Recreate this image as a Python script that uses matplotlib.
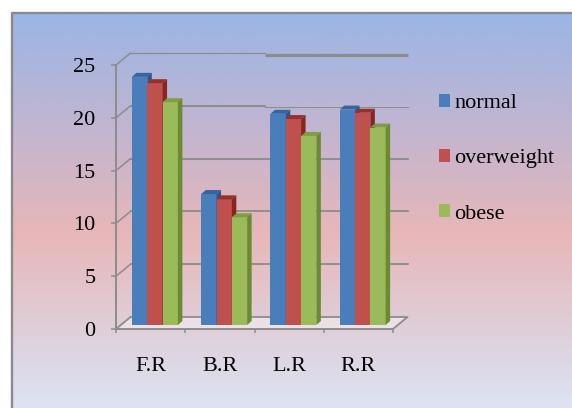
import matplotlib
matplotlib.use('Agg')
import matplotlib.pyplot as plt
import numpy as np
from matplotlib.patches import Polygon, Patch

categories = ['F.R', 'B.R', 'L.R', 'R.R']
series = ['normal', 'overweight', 'obese']
normal = [23.5, 12.4, 20.0, 20.4]
overweight = [22.9, 11.9, 19.5, 20.1]
obese = [21.1, 10.2, 17.9, 18.7]
y_ticks = [0, 5, 10, 15, 20, 25]

front_c = ['#4a7ebb', '#c0504d', '#9bbb59']
top_c = ['#35649e', '#97302d', '#7f9e42']
side_c = ['#2d5688', '#862622', '#6a8a34']
grid_c = '#8c8c8c'

W, H = 572, 408
plt.rcParams['font.family'] = ['Liberation Serif', 'DejaVu Serif']
plt.rcParams['font.size'] = 16

fig = plt.figure(figsize=(W / 100, H / 100), dpi=100)

# background gradient + frame
bg = fig.add_axes([0, 0, 1, 1])
bg.set_xlim(0, W)
bg.set_ylim(H, 0)
bg.axis('off')
stops = [0, 0.27, 0.56, 0.83, 1.0]
cols = ['#9bb5e5', '#bfb5d2', '#e7b7b8', '#ded2dd', '#dde3f3']
rgb = np.array([matplotlib.colors.to_rgb(c) for c in cols])
t = np.linspace(0, 1, 300)
grad = np.stack([np.interp(t, stops, rgb[:, k]) for k in range(3)], axis=1)[:, None, :]
bg.imshow(grad, extent=(12, W, H, 13), origin='upper', aspect='auto', zorder=0)
bg.plot([12, 12, W], [H, 13, 13], color='#8a8a8a', lw=1.7, zorder=1)

# plot area (front plane)
ax = fig.add_axes([116 / W, (H - 329) / H, 277 / W, 264 / H])
ax.set_facecolor('none')
ax.set_xlim(-0.5, 3.5)
ax.set_ylim(0, 25)
ux = 4 / 277
uy = 25 / 264

# depth of the box (back wall offset) in data units
bx, by = 14.5 * ux, 12 * uy
x = np.arange(len(categories))
split = 1.44

for v in y_ticks[1:]:
    if v == 25:
        ax.plot([-0.5 + bx, split + bx], [v + by, v + by], color=grid_c, lw=0.9, clip_on=False, zorder=1)
        ax.plot([split + bx, 3.5 + bx], [v + by - 2.3 * uy] * 2, color=grid_c, lw=2.3,
                clip_on=False, zorder=1, solid_capstyle='butt')
    elif v == 20:
        ax.plot([-0.5 + bx, split + bx], [v + by, v + by], color=grid_c, lw=1.4, clip_on=False, zorder=1)
        ax.plot([split + bx, 3.5 + bx], [v + by - 0.8 * uy] * 2, color=grid_c, lw=0.7, clip_on=False, zorder=1)
    else:
        ax.plot([-0.5 + bx, 3.5 + bx], [v + by, v + by], color=grid_c, lw=1.3, clip_on=False, zorder=1)
    ax.plot([-0.5, -0.5 + bx], [v, v + by], color=grid_c, lw=1.1, clip_on=False, zorder=1)

# floor
floor = Polygon([(-0.5, 0), (3.5, 0), (3.5 + bx, by), (-0.5 + bx, by)], closed=True,
                facecolor='white', alpha=0.4, edgecolor='none', zorder=1, clip_on=False)
ax.add_patch(floor)
ax.plot([-0.5, -0.5 + bx, 3.5 + bx, 3.5], [0, by, by, 0], color=grid_c, lw=1.3,
        clip_on=False, zorder=1)

# 3d-looking bars
bw = 15.3 / 69.25
ox, oy = 4.3 * ux, 4 * uy
dx, dy = 4.5 * ux, 4 * uy
for i, vals in enumerate([normal, overweight, obese]):
    z = 3 + i
    xs = x + (i - 1) * bw + ox
    ax.bar(xs, vals, width=bw, bottom=oy, color=front_c[i], edgecolor='none', zorder=z, clip_on=False)
    for xc, v in zip(xs, vals):
        x0, x1 = xc - bw / 2, xc + bw / 2
        top = v + oy
        ax.add_patch(Polygon([(x0, top), (x1, top), (x1 + dx, top + dy), (x0 + dx, top + dy)],
                             closed=True, facecolor=top_c[i], edgecolor='none', zorder=z, clip_on=False))
        ax.add_patch(Polygon([(x1, oy), (x1 + dx, oy + dy), (x1 + dx, top + dy), (x1, top)],
                             closed=True, facecolor=side_c[i], edgecolor='none', zorder=z, clip_on=False))

# axes styling
for s in ['top', 'right']:
    ax.spines[s].set_visible(False)
for s in ['left', 'bottom']:
    ax.spines[s].set_color(grid_c)
    ax.spines[s].set_linewidth(1.4)
    ax.spines[s].set_zorder(2)
ax.set_yticks(y_ticks)
ax.tick_params(axis='y', length=3.6, width=1.1, color=grid_c, pad=11)
ax.set_xticks(np.arange(-0.5, 4, 1))
ax.set_xticklabels([])
ax.set_xticks(x, categories, minor=True)
ax.tick_params(axis='x', which='major', length=3, width=1.1, color=grid_c)
ax.tick_params(axis='x', which='minor', length=0, pad=20)

handles = [Patch(facecolor=c, edgecolor='none') for c in front_c]
ax.legend(handles, series, loc='upper left', bbox_to_anchor=(439 / W, 1 - 94 / H),
          bbox_transform=fig.transFigure, frameon=False, handlelength=0.5, handleheight=0.5,
          handletextpad=0.2, labelspacing=1.62, borderpad=0, borderaxespad=0, fontsize=16)

fig.savefig('out.png', dpi=100)
